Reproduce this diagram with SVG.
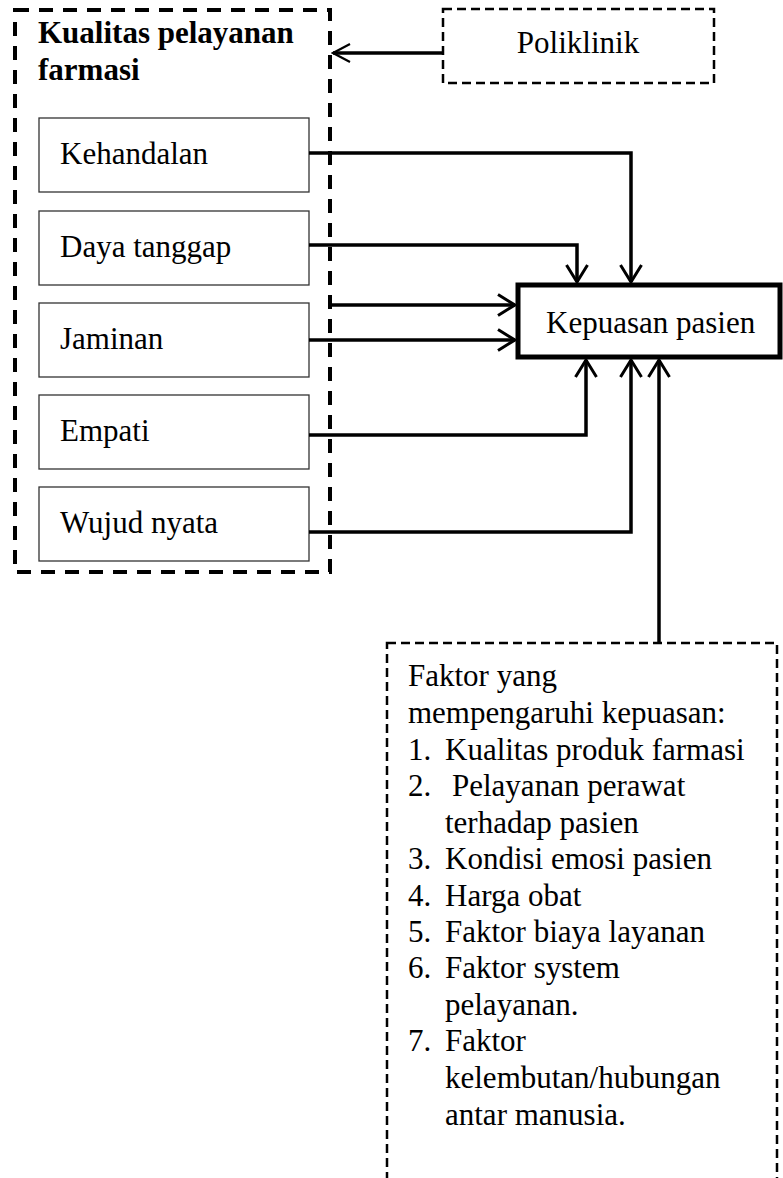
<svg xmlns="http://www.w3.org/2000/svg" width="783" height="1178" viewBox="0 0 783 1178">
<style>
text{font-family:"Liberation Serif","Times New Roman",serif;font-size:31px;fill:#000}
.b{font-weight:bold}
.node{fill:#fff;stroke:#333;stroke-width:1.3}
.conn{fill:none;stroke:#000;stroke-width:3.5}
</style>
<defs>
<marker id="arr" viewBox="0 0 20 24" refX="18" refY="12" markerWidth="20" markerHeight="24" markerUnits="userSpaceOnUse" orient="auto">
<path d="M1,1.5 L18,12 L1,22.5" fill="none" stroke="#000" stroke-width="3"/>
</marker>
<marker id="arrs" viewBox="0 0 20 22" refX="18" refY="11" markerWidth="20" markerHeight="22" markerUnits="userSpaceOnUse" orient="auto">
<path d="M1,2 L18,11 L1,20" fill="none" stroke="#000" stroke-width="2.2"/>
</marker>
</defs>
<g id="kualitas">
<rect x="15" y="10" width="315" height="562" fill="none" stroke="#000" stroke-width="4" stroke-dasharray="14,10"/>
<text class="b" x="38" y="43">Kualitas pelayanan</text>
<text class="b" x="38" y="80">farmasi</text>
</g>
<g id="kehandalan"><rect class="node" x="39" y="118" width="270" height="74"/><text x="60" y="164">Kehandalan</text></g>
<g id="daya"><rect class="node" x="39" y="211" width="270" height="74"/><text x="60" y="257">Daya tanggap</text></g>
<g id="jaminan"><rect class="node" x="39" y="303" width="270" height="74"/><text x="60" y="349">Jaminan</text></g>
<g id="empati"><rect class="node" x="39" y="395" width="270" height="74"/><text x="60" y="441">Empati</text></g>
<g id="wujud"><rect class="node" x="39" y="487" width="270" height="74"/><text x="60" y="533">Wujud nyata</text></g>
<g id="poliklinik">
<rect x="443" y="9" width="271" height="74" fill="none" stroke="#000" stroke-width="2.5" stroke-dasharray="9,5"/>
<text x="578" y="53" text-anchor="middle">Poliklinik</text>
</g>
<g id="kepuasan">
<rect x="518" y="285" width="262" height="72" fill="#fff" stroke="#000" stroke-width="5"/>
<text x="546" y="333">Kepuasan pasien</text>
</g>
<g id="faktor">
<rect x="387" y="643" width="390" height="600" fill="none" stroke="#000" stroke-width="2.5" stroke-dasharray="9,5"/>
<text x="408" y="686">Faktor yang</text>
<text x="408" y="723">mempengaruhi kepuasan:</text>
<text x="408" y="760">1.</text><text x="445" y="760">Kualitas produk farmasi</text>
<text x="408" y="796">2.</text><text x="452" y="796">Pelayanan perawat</text>
<text x="445" y="833">terhadap pasien</text>
<text x="408" y="869">3.</text><text x="445" y="869">Kondisi emosi pasien</text>
<text x="408" y="906">4.</text><text x="445" y="906">Harga obat</text>
<text x="408" y="942">5.</text><text x="445" y="942">Faktor biaya layanan</text>
<text x="408" y="978">6.</text><text x="445" y="978">Faktor system</text>
<text x="445" y="1015">pelayanan.</text>
<text x="408" y="1051">7.</text><text x="445" y="1051">Faktor</text>
<text x="445" y="1088">kelembutan/hubungan</text>
<text x="445" y="1125">antar manusia.</text>
</g>
<g id="connectors">
<path class="conn" d="M443,53 L333,53" stroke-width="2" marker-end="url(#arrs)"/>
<path class="conn" d="M309,153 L631,153 L631,282" marker-end="url(#arr)"/>
<path class="conn" d="M309,245 L577,245 L577,282" marker-end="url(#arr)"/>
<path class="conn" d="M330,305 L515,305" marker-end="url(#arr)"/>
<path class="conn" d="M309,340 L515,340" marker-end="url(#arr)"/>
<path class="conn" d="M309,435 L586,435 L586,360" marker-end="url(#arr)"/>
<path class="conn" d="M309,532 L631,532 L631,360" marker-end="url(#arr)"/>
<path class="conn" d="M659,643 L659,360" marker-end="url(#arr)"/>
</g>
</svg>
